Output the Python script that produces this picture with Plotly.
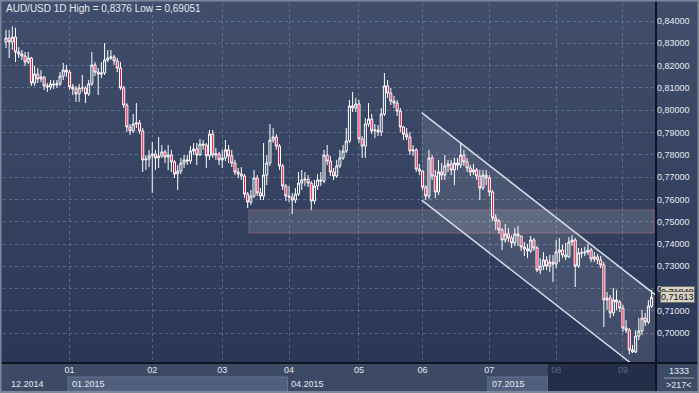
import plotly.graph_objects as go

# ---------------- data (AUD/USD daily) ----------------
first_open = 0.8306
close = [
    0.8324,0.8306,0.8328,0.8261,0.8252,0.8243,0.8216,0.8234,0.8122,0.8162,0.8140,0.8149,0.8109,0.8104,0.8118,0.8113,0.8118,0.8153,0.8180,0.8171,
    0.8104,0.8095,0.8073,0.8100,0.8100,0.8073,0.8118,0.8203,0.8171,0.8162,0.8167,0.8225,0.8234,0.8239,0.8221,0.8189,0.8100,0.8023,0.7925,0.7907,
    0.7938,0.7943,0.7907,0.7777,0.7781,0.7795,
    0.7804,0.7786,0.7795,0.7813,0.7790,0.7799,0.7768,0.7714,0.7727,0.7763,0.7777,0.7772,0.7817,0.7826,0.7799,0.7848,0.7844,0.7795,0.7893,0.7799,
    0.7804,0.7777,
    0.7786,0.7822,0.7795,0.7763,0.7723,0.7714,0.7705,0.7624,0.7588,0.7615,0.7696,0.7629,0.7615,0.7709,0.7763,0.7866,0.7880,0.7839,0.7750,0.7660,
    0.7615,
    0.7611,0.7597,0.7624,0.7673,0.7687,0.7691,0.7673,0.7593,0.7660,0.7687,0.7682,0.7799,0.7772,0.7723,0.7705,0.7750,0.7786,0.7817,0.7862,0.8019,
    0.8010,0.8028,
    0.7871,0.7839,0.7938,0.7960,0.7907,0.7911,0.7902,0.7983,0.8109,0.8077,0.8041,0.8032,0.7996,0.7925,0.7893,0.7880,0.7817,0.7822,0.7736,0.7727,
    0.7655,0.7615,0.7786,0.7705,0.7633,0.7723,0.7709,0.7750,0.7759,0.7732,0.7763,0.7754,0.7799,0.7768,0.7741,0.7723,0.7732,0.7705,0.7651,0.7709,
    0.7696,
    0.7633,0.7517,0.7503,0.7463,0.7418,0.7445,0.7427,0.7405,0.7445,0.7436,0.7387,0.7378,0.7369,0.7418,0.7382,0.7283,0.7301,0.7328,0.7301,0.7319,
    0.7310,
    0.7364,0.7373,0.7351,0.7342,0.7409,0.7418,0.7301,0.7360,0.7360,0.7364,0.7373,0.7333,0.7342,0.7328,0.7306,0.7149,0.7158,0.7091,0.7149,0.7140,
    0.7113,
    0.7023,0.7014,0.6925,0.6916,0.6987,0.7010,0.7068,0.7050,0.7122,0.71613,
]
high = [
    0.8360,0.8360,0.8376,0.8370,0.8283,0.8270,0.8261,0.8261,0.8239,0.8198,0.8189,0.8180,0.8153,0.8122,0.8135,0.8135,0.8135,0.8171,0.8212,0.8203,
    0.8180,0.8118,0.8109,0.8118,0.8158,0.8109,0.8135,0.8261,0.8216,0.8189,0.8216,0.8301,0.8270,0.8270,0.8248,0.8234,0.8216,0.8109,0.8032,0.7938,
    0.7983,0.8032,0.7956,0.7920,0.7799,0.7822,
    0.7857,0.7822,0.7880,0.7844,0.7822,0.7844,0.7822,0.7777,0.7754,0.7786,0.7799,0.7799,0.7839,0.7853,0.7853,0.7871,0.7866,0.7853,0.7911,0.7911,
    0.7830,0.7813,
    0.7822,0.7866,0.7844,0.7822,0.7777,0.7741,0.7745,0.7714,0.7633,0.7642,0.7732,0.7709,0.7651,0.7853,0.7799,0.7938,0.7920,0.7893,0.7848,0.7759,
    0.7669,
    0.7660,0.7629,0.7651,0.7723,0.7732,0.7723,0.7709,0.7682,0.7687,0.7714,0.7723,0.7822,0.7844,0.7795,0.7741,0.7777,0.7822,0.7844,0.7920,0.8046,
    0.8082,0.8055,
    0.8046,0.7884,0.7965,0.8032,0.7983,0.7938,0.7934,0.8010,0.8167,0.8135,0.8100,0.8064,0.8046,0.8010,0.7929,0.7920,0.7902,0.7844,0.7830,0.7759,
    0.7732,0.7664,0.7822,0.7799,0.7732,0.7777,0.7763,0.7799,0.7777,0.7777,0.7786,0.7786,0.7853,0.7822,0.7786,0.7754,0.7759,0.7741,0.7732,0.7732,
    0.7732,
    0.7709,0.7642,0.7534,0.7512,0.7472,0.7490,0.7472,0.7440,0.7472,0.7481,0.7436,0.7409,0.7400,0.7436,0.7427,0.7391,0.7337,0.7364,0.7346,0.7351,
    0.7351,
    0.7418,0.7427,0.7396,0.7405,0.7431,0.7440,0.7427,0.7382,0.7382,0.7387,0.7400,0.7382,0.7364,0.7355,0.7346,0.7319,0.7185,0.7171,0.7203,0.7194,
    0.7149,
    0.7127,0.7059,0.7023,0.6947,0.7014,0.7068,0.7104,0.7091,0.7149,0.7194,
]
low = [
    0.8279,0.8234,0.8270,0.8216,0.8234,0.8225,0.8198,0.8207,0.8109,0.8109,0.8122,0.8126,0.8091,0.8082,0.8091,0.8095,0.8100,0.8109,0.8135,0.8149,
    0.8091,0.8068,0.8037,0.8037,0.8082,0.8032,0.8064,0.8109,0.8153,0.8068,0.8144,0.8158,0.8216,0.8225,0.8203,0.8171,0.8091,0.8010,0.7902,0.7889,
    0.7898,0.7920,0.7893,0.7723,0.7732,0.7745,
    0.7629,0.7732,0.7741,0.7786,0.7763,0.7732,0.7723,0.7696,0.7642,0.7714,0.7741,0.7754,0.7759,0.7799,0.7754,0.7795,0.7822,0.7741,0.7777,0.7786,
    0.7777,0.7754,
    0.7741,0.7772,0.7763,0.7745,0.7709,0.7696,0.7687,0.7606,0.7561,0.7575,0.7606,0.7615,0.7597,0.7597,0.7664,0.7750,0.7853,0.7822,0.7732,0.7642,
    0.7593,
    0.7588,0.7534,0.7584,0.7615,0.7642,0.7660,0.7655,0.7552,0.7579,0.7642,0.7660,0.7673,0.7754,0.7705,0.7687,0.7696,0.7741,0.7777,0.7808,0.7853,
    0.7992,0.7992,
    0.7853,0.7786,0.7786,0.7925,0.7893,0.7875,0.7884,0.7884,0.7974,0.8055,0.8023,0.8010,0.7974,0.7902,0.7866,0.7866,0.7799,0.7795,0.7723,0.7709,
    0.7642,0.7597,0.7602,0.7687,0.7606,0.7620,0.7687,0.7687,0.7723,0.7709,0.7664,0.7732,0.7741,0.7750,0.7723,0.7705,0.7709,0.7687,0.7597,0.7642,
    0.7664,
    0.7615,0.7503,0.7463,0.7445,0.7373,0.7405,0.7409,0.7382,0.7391,0.7391,0.7369,0.7346,0.7337,0.7360,0.7369,0.7274,0.7265,0.7283,0.7283,0.7274,
    0.7230,
    0.7292,0.7319,0.7337,0.7328,0.7337,0.7391,0.7207,0.7292,0.7337,0.7346,0.7351,0.7319,0.7319,0.7310,0.7292,0.7028,0.7104,0.7068,0.7077,0.7104,
    0.7095,
    0.7005,0.7001,0.69051,0.6911,0.6911,0.6970,0.6992,0.7032,0.7041,0.7113,
]
open_ = [first_open] + close[:-1]
day_index = list(range(len(close)))

month_start_idx = [20, 46, 68, 89, 111, 131, 152, 173, 194]
month_labels = ["01", "02", "03", "04", "05", "06", "07", "08", "09"]
dimmed_months = ["08", "09"]
quarter_labels = ["12.2014", "01.2015", "04.2015", "07.2015"]
price_ticks = [0.70, 0.71, 0.72, 0.73, 0.74, 0.75, 0.76, 0.77, 0.78, 0.79, 0.80, 0.81, 0.82, 0.83, 0.84]

channel_x = [130.7, 204.4]
channel_upper = [0.7989, 0.7170]
channel_lower = [0.7597, 0.6778]
zone_x = [76.4, 203.8]
zone_y = [0.7449, 0.7553]
last_price = 0.71613
channel_price = 0.71848
header = "AUD/USD 1D High = 0,8376 Low = 0,69051"
footer_top, footer_bottom = "1333", ">217<"

# ---------------- styling ----------------
XR = [-0.94, 204.4]
YR = [0.68664, 0.84807]
FONT = "Liberation Sans"
TXT = "rgb(228,232,240)"
GRID = "rgba(140,155,185,0.45)"


def px(i):
    return (i - XR[0]) / (XR[1] - XR[0])


fig = go.Figure(go.Candlestick(
    x=day_index, open=open_, high=high, low=low, close=close,
    increasing=dict(line=dict(color="#ffffff", width=1), fillcolor="rgba(0,0,0,0)"),
    decreasing=dict(line=dict(color="#ffffff", width=1), fillcolor="#ec1040"),
    whiskerwidth=0, showlegend=False, hoverinfo="skip",
))

shapes = []
# background gradient
top_c = (64, 78, 108)
bot_c = (43, 55, 86)
nb = 48
ytop = 1.0084
for k in range(nb):
    t = k / (nb - 1)
    c = tuple(round(bot_c[j] + (top_c[j] - bot_c[j]) * t) for j in range(3))
    shapes.append(dict(type="rect", xref="paper", yref="paper", x0=-0.01, x1=1.07,
                       y0=k / nb * ytop, y1=(k + 1) / nb * ytop + 0.003,
                       fillcolor="rgb(%d,%d,%d)" % c, line_width=0, layer="below"))
# time strip
shapes.append(dict(type="rect", xref="paper", yref="paper", x0=-0.01, x1=1.07, y0=-0.09, y1=0,
                   fillcolor="rgb(61,74,101)", line_width=0, layer="below"))
# quarter boxes
shapes.append(dict(type="rect", xref="paper", yref="paper", x0=px(month_start_idx[0] - 0.5),
                   x1=px(month_start_idx[3] - 0.5), y0=-0.0778, y1=-0.0389,
                   fillcolor="rgb(80,95,125)", line=dict(color="rgb(100,115,145)", width=1), layer="below"))
shapes.append(dict(type="rect", xref="paper", yref="paper", x0=px(month_start_idx[6] - 0.5),
                   x1=0.8346, y0=-0.0778, y1=-0.0389,
                   fillcolor="rgb(80,95,125)", line=dict(color="rgb(100,115,145)", width=1), layer="below"))
shapes.append(dict(type="line", xref="paper", yref="paper", x0=px(month_start_idx[3] - 0.5),
                   x1=px(month_start_idx[3] - 0.5), y0=-0.0778, y1=-0.0389,
                   line=dict(color="rgb(100,115,145)", width=1), layer="below"))
# dark overlay (future region of the navigator)
shapes.append(dict(type="rect", xref="paper", yref="paper", x0=0.8346, x1=1.0, y0=-0.083, y1=0,
                   fillcolor="rgb(37,46,72)", line_width=0, layer="below"))
# right-bottom corner box
shapes.append(dict(type="line", xref="paper", yref="paper", x0=1.012, x1=1.058, y0=-0.0417, y1=-0.0417,
                   line=dict(color="rgb(150,160,180)", width=1), layer="above"))
# support/resistance zone
shapes.append(dict(type="rect", xref="x", yref="y", x0=zone_x[0], x1=zone_x[1], y0=zone_y[0], y1=zone_y[1],
                   fillcolor="rgba(255,255,255,0.13)", line=dict(color="rgba(180,110,130,0.55)", width=1),
                   layer="between"))
# channel fill and lines
shapes.append(dict(type="path", xref="x", yref="y",
                   path="M %f,%f L %f,%f L %f,%f L %f,%f Z" % (
                       channel_x[0], channel_upper[0], channel_x[1], channel_upper[1],
                       channel_x[1], channel_lower[1], channel_x[0], channel_lower[0]),
                   fillcolor="rgba(255,255,255,0.11)", line_width=0, layer="between"))
for ys in (channel_upper, channel_lower):
    shapes.append(dict(type="line", xref="x", yref="y", x0=channel_x[0], x1=channel_x[1], y0=ys[0], y1=ys[1],
                       line=dict(color="rgb(215,220,230)", width=1.5), layer="between"))
# dividers and frame
shapes.append(dict(type="line", xref="paper", yref="paper", x0=-0.01, x1=1.07, y0=0, y1=0,
                   line=dict(color="rgb(16,20,34)", width=2), layer="above"))
shapes.append(dict(type="line", xref="paper", yref="paper", x0=1.0, x1=1.0, y0=-0.09, y1=1.02,
                   line=dict(color="rgb(16,20,34)", width=2), layer="above"))
shapes.append(dict(type="rect", xref="paper", yref="paper", x0=-0.0038, x1=1.0651, y0=-0.0806, y1=1.0069,
                   line=dict(color="rgb(125,135,155)", width=2), fillcolor="rgba(0,0,0,0)", layer="above"))

ticktext = []
for m in month_labels:
    if m in dimmed_months:
        ticktext.append('<span style="color:rgb(95,106,132)">%s</span>' % m)
    else:
        ticktext.append(m)

annotations = [
    dict(text=header, xref="paper", yref="paper", x=0, y=1.0084, xanchor="left", yanchor="top",
         xshift=1, yshift=-1, showarrow=False, font=dict(family=FONT, size=10, color=TXT)),
    dict(text=quarter_labels[0], xref="paper", yref="paper", x=0.0092, y=-0.0583, xanchor="left",
         yanchor="middle", showarrow=False, font=dict(family=FONT, size=9, color=TXT)),
    dict(text=footer_top, xref="paper", yref="paper", x=1.035, y=-0.022, xanchor="center",
         yanchor="middle", showarrow=False, font=dict(family=FONT, size=9, color=TXT)),
    dict(text=footer_bottom, xref="paper", yref="paper", x=1.035, y=-0.062, xanchor="center",
         yanchor="middle", showarrow=False, font=dict(family=FONT, size=9, color=TXT)),
]
for lbl, mi in zip(quarter_labels[1:], [month_start_idx[0], month_start_idx[3], month_start_idx[6]]):
    annotations.append(dict(text=lbl, xref="paper", yref="paper", x=px(mi - 0.5), y=-0.0583,
                            xanchor="left", yanchor="middle", xshift=2, showarrow=False,
                            font=dict(family=FONT, size=9, color=TXT)))
for val in (channel_price, last_price):
    annotations.append(dict(text=("%.5f" % val).replace(".", ","), xref="paper", yref="y", x=1.0, y=val,
                            xanchor="left", yanchor="middle", xshift=4, showarrow=False,
                            bgcolor="rgb(214,210,196)", bordercolor="rgb(110,110,100)", borderwidth=1,
                            borderpad=0, font=dict(family=FONT, size=9, color="rgb(20,20,20)")))

fig.update_layout(
    width=699, height=393,
    margin=dict(l=3, r=43, t=3, b=30, pad=0),
    paper_bgcolor="rgb(43,55,86)", plot_bgcolor="rgba(0,0,0,0)",
    separators=", ",
    showlegend=False,
    boxgap=0.08,
    shapes=shapes, annotations=annotations,
    xaxis=dict(range=XR, rangeslider=dict(visible=False), showgrid=True, gridcolor=GRID, griddash="3px,3px",
               gridwidth=1, tickvals=month_start_idx, ticktext=ticktext, ticks="", showline=False,
               zeroline=False, tickfont=dict(family=FONT, size=9, color=TXT), fixedrange=True),
    yaxis=dict(range=YR, side="right", showgrid=True, gridcolor=GRID, griddash="3px,3px", gridwidth=1,
               tickvals=price_ticks, tickformat=".5f", ticks="", showline=False, zeroline=False,
               tickfont=dict(family=FONT, size=9, color=TXT), fixedrange=True),
)

fig.write_html("out.html", config={"displayModeBar": False},
               post_script="document.body.style.margin='0';document.body.style.overflow='hidden';")
